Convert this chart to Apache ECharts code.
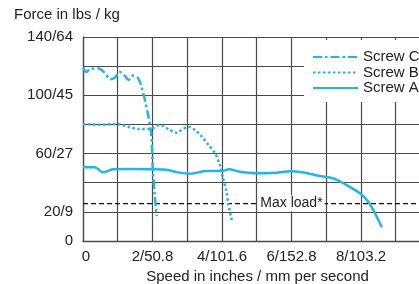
<!DOCTYPE html>
<html>
<head>
<meta charset="utf-8">
<style>
  html, body { margin: 0; padding: 0; background: #fff; }
  #chart { width: 419px; height: 284px; }
</style>
<script src="https://cdn.jsdelivr.net/npm/echarts@6/dist/echarts.min.js"></script>
</head>
<body>
<div id="chart"></div>
<script>
'use strict';

// [speed in inches/s, force in lbs]
const screwA = [[0, 50.6], [0.34, 50.6], [0.58, 47.1], [0.86, 49.2], [1.3, 49.4], [1.97, 49.2],
    [2.45, 48.7], [2.73, 47.1], [3.08, 46.2], [3.56, 48.0], [4.0, 48.0], [4.2, 49.2], [4.52, 47.5],
    [5.0, 46.5], [5.57, 46.9], [5.96, 47.8], [6.3, 47.2], [6.82, 44.6], [7.2, 43], [7.59, 38.4],
    [7.97, 32.7], [8.21, 27], [8.35, 21.3], [8.5, 14.4], [8.6, 9.4]];
const screwB = [[0, 80.3], [0.5, 79.8], [1.0, 80.3], [1.3, 78.4], [1.62, 76.8], [1.98, 77.3],
    [2.22, 79.6], [2.5, 76.2], [2.7, 74.3], [2.84, 76.2], [3.03, 78.4], [3.22, 76.2], [3.42, 71.6],
    [3.61, 65.9], [3.8, 60.2], [3.94, 52.2], [4.02, 44.1], [4.12, 35], [4.18, 25.9], [4.28, 14.4]];
const screwC = [[0, 119], [0.1, 116], [0.2, 118], [0.43, 118.5], [0.6, 116], [0.79, 111],
    [0.91, 112], [1.06, 116], [1.2, 113.5], [1.31, 110.5], [1.44, 113.5], [1.58, 112], [1.68, 106],
    [1.78, 97], [1.87, 87], [1.95, 76], [1.98, 67], [2.01, 49], [2.07, 30], [2.12, 17]];
const maxLoad = 25.7;
const maxLoadX = [0, 6, 9.67];

const xTickValues = [0, 2, 4, 6, 8];
const xTickLabels = ['0', '2/50.8', '4/101.6', '6/152.8', '8/103.2'];
const yTickValues = [0, 20, 60, 100, 140];
const yTickLabels = ['0', '20/9', '60/27', '100/45', '140/64'];

const font = '"Liberation Sans", Arial, sans-serif';
const cyan = '#22b5e8';
const gridColor = '#4a4a4a';

const chart = echarts.init(document.getElementById('chart'));
chart.setOption({
    animation: false,
    textStyle: { fontFamily: font, color: '#222' },
    title: {
        text: 'Force in lbs / kg',
        left: 14,
        top: 7,
        padding: 0,
        textStyle: { fontFamily: font, fontSize: 15, fontWeight: 'normal', color: '#222' }
    },
    legend: {
        data: ['Screw C', 'Screw B', 'Screw A'],
        orient: 'vertical',
        left: 304,
        top: 40,
        padding: [9.5, 30, 6.5, 8],
        itemGap: 0.5,
        itemWidth: 45,
        itemHeight: 15,
        backgroundColor: '#fff',
        itemStyle: { color: 'transparent', borderWidth: 0, opacity: 0 },
        textStyle: { fontFamily: font, fontSize: 15, color: '#222' }
    },
    grid: { left: 83, right: 0, top: 37, bottom: 43, outerBoundsMode: 'none' },
    xAxis: {
        type: 'value',
        min: 0,
        max: 9.67,
        interval: 1,
        name: 'Speed in inches / mm per second',
        nameLocation: 'middle',
        nameGap: 26,
        nameTextStyle: { fontFamily: font, fontSize: 15, color: '#222', padding: [0, 0, 0, 13] },
        axisLine: { show: true, lineStyle: { color: gridColor, width: 1.3 } },
        axisTick: { show: false },
        splitLine: { show: true, showMaxLine: false, lineStyle: { color: gridColor, width: 1.2 } },
        axisLabel: {
            margin: 8,
            fontSize: 15,
            color: '#222',
            showMaxLabel: false,
            formatter: v => {
                const i = xTickValues.indexOf(v);
                if (i < 0) return '';
                return i === 0 ? '{z|' + xTickLabels[i] + '}' : xTickLabels[i];
            },
            rich: { z: { fontSize: 15, fontFamily: font, color: '#222', padding: [0, 0, 0, 6] } }
        }
    },
    yAxis: {
        type: 'value',
        min: 0,
        max: 140,
        interval: 20,
        axisLine: { show: true, lineStyle: { color: gridColor, width: 1.3 } },
        axisTick: { show: false },
        splitLine: { show: true, lineStyle: { color: gridColor, width: 1.2 } },
        axisLabel: {
            margin: 10,
            fontSize: 15,
            color: '#222',
            formatter: v => {
                const i = yTickValues.indexOf(v);
                return i < 0 ? '' : yTickLabels[i];
            }
        }
    },
    series: [
        {
            name: 'Max load',
            type: 'line',
            symbol: 'circle',
            symbolSize: 0,
            lineStyle: { color: '#111', width: 1.2, type: [5, 3] },
            itemStyle: { color: '#111' },
            data: maxLoadX.map((x, i) => i === 1 ? {
                value: [x, maxLoad],
                label: {
                    show: true,
                    position: 'inside',
                    formatter: 'Max load*',
                    fontFamily: font,
                    fontSize: 14,
                    color: '#222',
                    backgroundColor: '#fff',
                    padding: [1, 2]
                }
            } : [x, maxLoad]),
            z: 1
        },
        {
            name: 'Screw C',
            type: 'line',
            symbol: 'none',
            smooth: 0.3,
            color: cyan,
            lineStyle: { color: cyan, width: 2.5, type: [9, 3, 2.5, 3] },
            data: screwC,
            z: 3
        },
        {
            name: 'Screw B',
            type: 'line',
            symbol: 'none',
            smooth: 0.3,
            color: cyan,
            lineStyle: { color: cyan, width: 2.5, type: [2.5, 2.5] },
            data: screwB,
            z: 3
        },
        {
            name: 'Screw A',
            type: 'line',
            symbol: 'none',
            smooth: 0.3,
            color: cyan,
            lineStyle: { color: cyan, width: 2.5 },
            data: screwA,
            z: 3
        }
    ]
});
</script>
</body>
</html>
